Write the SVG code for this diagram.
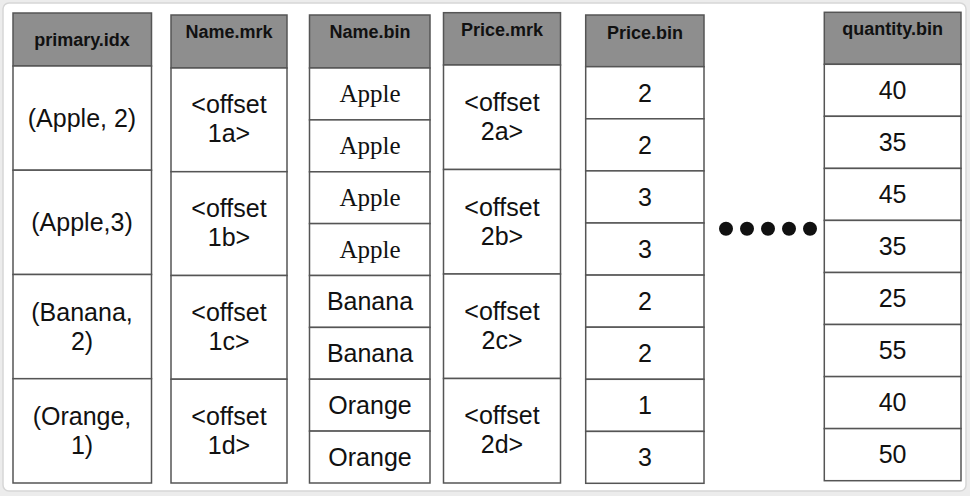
<svg xmlns="http://www.w3.org/2000/svg" width="970" height="496" viewBox="0 0 970 496">
  <style>
    .hd { fill: #8e8e8e; stroke: #555; stroke-width: 1.5; }
    .cell { fill: #fff; stroke: #555; stroke-width: 1.5; }
    .ht { font-family: "Liberation Sans", Arial, sans-serif; font-weight: bold; font-size: 18px; fill: #111; text-anchor: middle; }
    .t { font-family: "Liberation Sans", Arial, sans-serif; font-size: 25px; fill: #111; text-anchor: middle; }
    .ts { font-family: "Liberation Serif", "Times New Roman", serif; font-size: 25px; fill: #111; text-anchor: middle; }
  </style>

  <!-- page -->
  <rect x="0" y="0" width="970" height="496" fill="#ececec"/>
  <rect x="3" y="3" width="963" height="488" rx="6" fill="#fff" stroke="#d6d6d6" stroke-width="1.5"/>

  <!-- primary.idx -->
  <g id="primary-idx">
    <rect class="hd" x="13" y="13" width="138.5" height="53"/>
    <text class="ht" x="82" y="46">primary.idx</text>
    <rect class="cell" x="13" y="66" width="138.5" height="104.2"/>
    <rect class="cell" x="13" y="170.2" width="138.5" height="104.3"/>
    <rect class="cell" x="13" y="274.5" width="138.5" height="104.2"/>
    <rect class="cell" x="13" y="378.7" width="138.5" height="104.3"/>
    <text class="t" x="82" y="127">(Apple, 2)</text>
    <text class="t" x="82" y="231">(Apple,3)</text>
    <text class="t" x="82" y="321">(Banana,</text>
    <text class="t" x="82" y="350">2)</text>
    <text class="t" x="82" y="425">(Orange,</text>
    <text class="t" x="82" y="454">1)</text>
  </g>

  <!-- Name.mrk -->
  <g id="name-mrk">
    <rect class="hd" x="171" y="15" width="116" height="53"/>
    <text class="ht" x="229" y="38">Name.mrk</text>
    <rect class="cell" x="171" y="68" width="116" height="103.7"/>
    <rect class="cell" x="171" y="171.7" width="116" height="103.8"/>
    <rect class="cell" x="171" y="275.5" width="116" height="103.7"/>
    <rect class="cell" x="171" y="379.2" width="116" height="103.8"/>
    <text class="t" x="229" y="113">&lt;offset</text>
    <text class="t" x="229" y="142">1a&gt;</text>
    <text class="t" x="229" y="217">&lt;offset</text>
    <text class="t" x="229" y="246">1b&gt;</text>
    <text class="t" x="229" y="321">&lt;offset</text>
    <text class="t" x="229" y="350">1c&gt;</text>
    <text class="t" x="229" y="425">&lt;offset</text>
    <text class="t" x="229" y="454">1d&gt;</text>
  </g>

  <!-- Name.bin -->
  <g id="name-bin">
    <rect class="hd" x="309.5" y="15" width="120.5" height="53"/>
    <text class="ht" x="370" y="38">Name.bin</text>
    <rect class="cell" x="309.5" y="68" width="120.5" height="51.9"/>
    <rect class="cell" x="309.5" y="119.9" width="120.5" height="51.9"/>
    <rect class="cell" x="309.5" y="171.8" width="120.5" height="51.8"/>
    <rect class="cell" x="309.5" y="223.6" width="120.5" height="51.9"/>
    <rect class="cell" x="309.5" y="275.5" width="120.5" height="51.9"/>
    <rect class="cell" x="309.5" y="327.4" width="120.5" height="51.8"/>
    <rect class="cell" x="309.5" y="379.2" width="120.5" height="51.9"/>
    <rect class="cell" x="309.5" y="431.1" width="120.5" height="51.9"/>
    <text class="ts" x="370" y="102">Apple</text>
    <text class="ts" x="370" y="154">Apple</text>
    <text class="ts" x="370" y="206">Apple</text>
    <text class="ts" x="370" y="258">Apple</text>
    <text class="t" x="370" y="310">Banana</text>
    <text class="t" x="370" y="362">Banana</text>
    <text class="t" x="370" y="414">Orange</text>
    <text class="t" x="370" y="466">Orange</text>
  </g>

  <!-- Price.mrk -->
  <g id="price-mrk">
    <rect class="hd" x="443.5" y="12.7" width="117" height="52.3"/>
    <text class="ht" x="502" y="36">Price.mrk</text>
    <rect class="cell" x="443.5" y="65" width="117" height="104.5"/>
    <rect class="cell" x="443.5" y="169.5" width="117" height="104.5"/>
    <rect class="cell" x="443.5" y="274" width="117" height="104.5"/>
    <rect class="cell" x="443.5" y="378.5" width="117" height="104.5"/>
    <text class="t" x="502" y="111">&lt;offset</text>
    <text class="t" x="502" y="140">2a&gt;</text>
    <text class="t" x="502" y="216">&lt;offset</text>
    <text class="t" x="502" y="245">2b&gt;</text>
    <text class="t" x="502" y="320">&lt;offset</text>
    <text class="t" x="502" y="349">2c&gt;</text>
    <text class="t" x="502" y="424">&lt;offset</text>
    <text class="t" x="502" y="453">2d&gt;</text>
  </g>

  <!-- Price.bin -->
  <g id="price-bin">
    <rect class="hd" x="585.7" y="15" width="118.3" height="51.7"/>
    <text class="ht" x="645" y="39">Price.bin</text>
    <rect class="cell" x="585.7" y="66.7" width="118.3" height="52.1"/>
    <rect class="cell" x="585.7" y="118.8" width="118.3" height="52.1"/>
    <rect class="cell" x="585.7" y="170.9" width="118.3" height="52.1"/>
    <rect class="cell" x="585.7" y="223" width="118.3" height="52.1"/>
    <rect class="cell" x="585.7" y="275.1" width="118.3" height="52.1"/>
    <rect class="cell" x="585.7" y="327.2" width="118.3" height="52.1"/>
    <rect class="cell" x="585.7" y="379.3" width="118.3" height="52.1"/>
    <rect class="cell" x="585.7" y="431.4" width="118.3" height="51.9"/>
    <text class="t" x="645" y="102">2</text>
    <text class="t" x="645" y="154">2</text>
    <text class="t" x="645" y="206">3</text>
    <text class="t" x="645" y="258">3</text>
    <text class="t" x="645" y="310">2</text>
    <text class="t" x="645" y="362">2</text>
    <text class="t" x="645" y="414">1</text>
    <text class="t" x="645" y="466">3</text>
  </g>

  <!-- ellipsis between the column files -->
  <g id="ellipsis" fill="#111">
    <circle cx="726" cy="228.7" r="7"/>
    <circle cx="747" cy="228.7" r="7"/>
    <circle cx="768" cy="228.7" r="7"/>
    <circle cx="789" cy="228.7" r="7"/>
    <circle cx="810" cy="228.7" r="7"/>
  </g>

  <!-- quantity.bin -->
  <g id="quantity-bin">
    <rect class="hd" x="824.3" y="12.3" width="136.7" height="52"/>
    <text class="ht" x="892.6" y="35">quantity.bin</text>
    <rect class="cell" x="824.3" y="64.3" width="136.7" height="52"/>
    <rect class="cell" x="824.3" y="116.3" width="136.7" height="52.1"/>
    <rect class="cell" x="824.3" y="168.4" width="136.7" height="52"/>
    <rect class="cell" x="824.3" y="220.4" width="136.7" height="52.1"/>
    <rect class="cell" x="824.3" y="272.5" width="136.7" height="52"/>
    <rect class="cell" x="824.3" y="324.5" width="136.7" height="52.1"/>
    <rect class="cell" x="824.3" y="376.6" width="136.7" height="52"/>
    <rect class="cell" x="824.3" y="428.6" width="136.7" height="52.1"/>
    <text class="t" x="892.6" y="99">40</text>
    <text class="t" x="892.6" y="151">35</text>
    <text class="t" x="892.6" y="203">45</text>
    <text class="t" x="892.6" y="255">35</text>
    <text class="t" x="892.6" y="307">25</text>
    <text class="t" x="892.6" y="359">55</text>
    <text class="t" x="892.6" y="411">40</text>
    <text class="t" x="892.6" y="463">50</text>
  </g>
</svg>
